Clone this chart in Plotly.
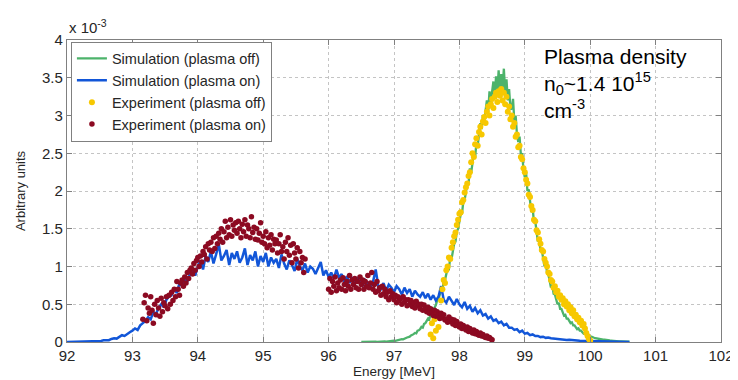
import plotly.graph_objects as go

# ---------------- data (values in units of 1e-3, arbitrary units) ----------------
# Simulation (plasma on): energy grid start/step [MeV]
sim_on_start = 92.0
sim_on_step = 0.04
sim_on_vals = [
    0, 0.001, 0.002, 0.001, 0.003,
    0.004, 0.003, 0.006, 0.005, 0.009,
    0.008, 0.013, 0.016, 0.014, 0.022,
    0.028, 0.024, 0.04, 0.05, 0.045,
    0.07, 0.09, 0.08, 0.11, 0.13,
    0.15, 0.18, 0.16, 0.22, 0.25,
    0.28, 0.33, 0.3, 0.4, 0.37,
    0.45, 0.5, 0.46, 0.56, 0.6,
    0.62, 0.7, 0.65, 0.78, 0.74,
    0.86, 0.8, 0.9, 0.97, 0.88,
    1.0, 1.08, 0.96, 1.14, 1.06,
    1.2, 1.04, 1.16, 1.3, 1.08,
    1.14, 1.22, 1.02, 1.18, 1.1,
    1.2, 1.05, 1.12, 1.24, 1.02,
    1.15, 1.08, 1.2, 1.0, 1.14,
    1.06, 1.18, 1.0, 1.12, 1.05,
    1.1, 0.98, 1.16, 1.04, 0.96,
    1.08, 1.02, 0.94, 1.1, 1.0,
    0.95, 1.04, 0.92, 1.0, 0.97,
    0.9, 0.98, 1.06, 0.88, 0.95,
    0.86, 0.92, 0.84, 0.96, 0.85,
    0.9, 0.8, 0.87, 0.78, 0.86,
    0.76, 0.84, 0.8, 0.74, 0.82,
    0.78, 0.72, 0.8, 0.96, 0.74,
    0.7, 0.78, 0.68, 0.76, 0.72,
    0.66, 0.74, 0.7, 0.63, 0.72,
    0.65, 0.7, 0.6, 0.68, 0.63,
    0.6, 0.66, 0.58, 0.64, 0.56,
    0.62, 0.55, 0.6, 0.74, 0.56,
    0.52, 0.6, 0.54, 0.49, 0.57,
    0.5, 0.46, 0.53, 0.44, 0.48,
    0.4, 0.45, 0.38, 0.42, 0.35,
    0.37, 0.31, 0.34, 0.28, 0.3,
    0.25, 0.27, 0.22, 0.24, 0.19,
    0.19, 0.16, 0.17, 0.13, 0.15,
    0.11, 0.12, 0.09, 0.1, 0.08,
    0.08, 0.065, 0.07, 0.055, 0.06,
    0.05, 0.045, 0.04, 0.042, 0.035,
    0.032, 0.028, 0.03, 0.024, 0.022,
    0.02, 0.017, 0.016, 0.013, 0.012,
    0.01, 0.009, 0.007, 0.007, 0.005,
    0.005, 0.004, 0.003, 0.003, 0.002,
    0.002, 0.001, 0.001, 0.001, 0.0,
    0.0,
]

# Simulation (plasma off)
sim_off_start = 96.5
sim_off_step = 0.02
sim_off_vals = [
    0.0, 0.001, 0.0, 0.001, 0.001,
    0.001, 0.002, 0.001, 0.002, 0.002,
    0.002, 0.003, 0.002, 0.004, 0.003,
    0.005, 0.004, 0.006, 0.007, 0.006,
    0.009, 0.011, 0.010, 0.014, 0.013,
    0.018, 0.016, 0.022, 0.024, 0.027,
    0.033, 0.038, 0.035, 0.046, 0.049,
    0.06, 0.066, 0.07, 0.086, 0.09,
    0.104, 0.12, 0.115, 0.15, 0.155,
    0.173, 0.2, 0.19, 0.24, 0.25,
    0.276, 0.31, 0.3, 0.37, 0.39,
    0.425, 0.46, 0.49, 0.55, 0.57,
    0.627, 0.7, 0.69, 0.8, 0.82,
    0.89, 0.98, 0.97, 1.12, 1.1,
    1.2, 1.3, 1.33, 1.46, 1.5,
    1.58, 1.69, 1.7, 1.86, 1.88,
    1.98, 2.1, 2.1, 2.3, 2.24,
    2.39, 2.5, 2.44, 2.64, 2.6,
    2.77, 2.9, 2.82, 3.0, 2.93,
    3.09, 3.2, 3.05, 3.32, 3.18,
    3.3, 3.45, 3.22, 3.52, 3.3,
    3.6, 3.28, 3.55, 3.35, 3.62,
    3.3, 3.48, 3.2, 3.35, 3.1,
    3.08, 3.22, 2.92, 3.0, 2.75,
    2.65, 2.72, 2.48, 2.5, 2.28,
    2.18, 2.24, 2.0, 2.02, 1.82,
    1.72, 1.78, 1.58, 1.6, 1.43,
    1.33, 1.38, 1.2, 1.22, 1.09,
    1.01, 1.06, 0.92, 0.9, 0.8,
    0.72, 0.76, 0.64, 0.63, 0.55,
    0.5, 0.52, 0.44, 0.44, 0.38,
    0.35, 0.36, 0.31, 0.31, 0.27,
    0.25, 0.26, 0.22, 0.22, 0.19,
    0.17, 0.18, 0.15, 0.15, 0.13,
    0.11, 0.115, 0.095, 0.09, 0.08,
    0.07, 0.072, 0.06, 0.056, 0.05,
    0.045, 0.046, 0.038, 0.036, 0.032,
    0.03, 0.03, 0.025, 0.024, 0.021,
    0.02, 0.019, 0.016, 0.015, 0.013,
    0.012, 0.012, 0.009, 0.009, 0.008,
    0.007, 0.007, 0.005, 0.005, 0.004,
    0.003,
]

# Experiment (plasma off)
exp_off_start = 97.56
exp_off_step = 0.02
exp_off_vals = [
    0.1, 0.25, 0.05, 0.3, 0.15, 0.38, 0.2, 0.35, 0.55, 0.7,
    0.82, 0.78, 0.95, 1.0, 1.12, 1.1, 1.25, 1.32, 1.4, 1.45,
    1.55, 1.62, 1.7, 1.72, 1.85, 1.88, 1.98, 2.05, 2.1, 2.2,
    2.25, 2.38, 2.5, 2.45, 2.62, 2.7, 2.6, 2.78, 2.85, 2.75,
    2.92, 2.98, 2.9, 3.05, 3.12, 3.0, 3.15, 3.22, 3.1, 3.25,
    3.3, 3.18, 3.32, 3.26, 3.35, 3.2, 3.3, 3.15, 3.25, 3.05,
    3.12, 2.95, 3.0, 2.85, 2.9, 2.72, 2.75, 2.58, 2.6, 2.45,
    2.42, 2.3, 2.25, 2.15, 2.1, 1.95, 1.92, 1.8, 1.75, 1.62,
    1.6, 1.48, 1.45, 1.36, 1.3, 1.22, 1.2, 1.1, 1.05, 1.0,
    0.92, 0.9, 0.82, 0.8, 0.72, 0.74, 0.66, 0.68, 0.6, 0.62,
    0.56, 0.58, 0.5, 0.54, 0.47, 0.5, 0.42, 0.46, 0.38, 0.42,
    0.34, 0.36, 0.3, 0.32, 0.26, 0.28, 0.22, 0.24, 0.18, 0.12,
    0.08, 0.04, 0.02,
]

# Experiment (plasma on) - two measured segments
exp_on_a_start = 93.16
exp_on_a_step = 0.02
exp_on_a_vals = [
    0.3, 0.52,
    0.62, 0.28, 0.45, 0.38, 0.6,
    0.42, 0.25, 0.5, 0.36, 0.55,
    0.45, 0.34, 0.58, 0.4, 0.52,
    0.48, 0.6, 0.44, 0.62, 0.5,
    0.66, 0.55, 0.7, 0.6, 0.8,
    0.7, 0.62, 0.78, 0.82, 0.74,
    0.86, 0.78, 0.92, 0.84, 0.95,
    0.98, 0.9, 1.04, 0.95, 1.08,
    1.12, 1.0, 1.14, 1.06, 1.2,
    1.16, 1.26, 1.1, 1.3, 1.22,
    1.32, 1.2, 1.38, 1.24, 1.4,
    1.3, 1.44, 1.36, 1.5, 1.32,
    1.46, 1.6, 1.38, 1.52, 1.42,
    1.62, 1.4, 1.55, 1.48, 1.58,
    1.44, 1.6, 1.5, 1.38, 1.56,
    1.46, 1.62, 1.4, 1.55, 1.5,
    1.38, 1.66, 1.45, 1.52, 1.36,
    1.5, 1.35, 1.44, 1.58, 1.32,
    1.4, 1.3, 1.46, 1.25, 1.38,
    1.28, 1.42, 1.22, 1.36, 1.3,
    1.35, 1.18, 1.3, 1.42, 1.2,
    1.26, 1.1, 1.32, 1.2, 1.38,
    1.15, 1.28, 1.05, 1.3, 1.18,
    1.1, 1.25, 0.98, 1.2, 1.05,
    1.12, 0.92, 1.1,
]
exp_on_b_start = 96.0
exp_on_b_step = 0.02
exp_on_b_vals = [
    0.7, 0.84, 0.66, 0.8, 0.74,
    0.86, 0.68, 0.78, 0.72, 0.82,
    0.7, 0.85, 0.76, 0.68, 0.8,
    0.74, 0.88, 0.7, 0.82, 0.76,
    0.84, 0.72, 0.8, 0.7, 0.86,
    0.76, 0.82, 0.7, 0.8, 0.74,
    0.88, 0.72, 0.78, 0.92, 0.7,
    0.76, 0.66, 0.8, 0.68, 0.72,
    0.62, 0.74, 0.64, 0.7, 0.6,
    0.66, 0.56, 0.68, 0.6, 0.64,
    0.56, 0.62, 0.52, 0.6, 0.55,
    0.58, 0.5, 0.6, 0.53, 0.56,
    0.48, 0.56, 0.5, 0.55, 0.47,
    0.52, 0.45, 0.54, 0.48, 0.5,
    0.44, 0.5, 0.42, 0.49, 0.44,
    0.4, 0.46, 0.38, 0.44, 0.39,
    0.35, 0.42, 0.34, 0.4, 0.36,
    0.31, 0.38, 0.32, 0.36, 0.29,
    0.3, 0.26, 0.33, 0.27, 0.3,
    0.24, 0.29, 0.22, 0.27, 0.23,
    0.2, 0.24, 0.18, 0.22, 0.19,
    0.16, 0.2, 0.14, 0.18, 0.15,
    0.12, 0.16, 0.11, 0.14, 0.1,
    0.09, 0.12, 0.08, 0.1, 0.07,
    0.06, 0.08, 0.05, 0.06, 0.04,
    0.03,
]

x_ticks = [92, 93, 94, 95, 96, 97, 98, 99, 100, 101, 102]
y_ticks = [0, 0.5, 1, 1.5, 2, 2.5, 3, 3.5, 4]

series_names = [
    "Simulation (plasma off)",
    "Simulation (plasma on)",
    "Experiment (plasma off)",
    "Experiment (plasma on)",
]


def grid(start, step, vals):
    return [round(start + step * i, 4) for i in range(len(vals))]


sim_off_x = grid(sim_off_start, sim_off_step, sim_off_vals)
sim_on_x = grid(sim_on_start, sim_on_step, sim_on_vals)
exp_off_x = grid(exp_off_start, exp_off_step, exp_off_vals)
exp_on_x = grid(exp_on_a_start, exp_on_a_step, exp_on_a_vals) + grid(exp_on_b_start, exp_on_b_step, exp_on_b_vals)
exp_on_vals = exp_on_a_vals + exp_on_b_vals

GREEN = "#4db36b"
BLUE = "#1256d8"
YELLOW = "#f7c800"
RED = "#8c0a22"
FONT = "Liberation Sans, Arial, sans-serif"

fig = go.Figure()
fig.add_trace(go.Scatter(x=sim_off_x, y=sim_off_vals, mode="lines", name=series_names[0],
                         line=dict(color=GREEN, width=2.3)))
fig.add_trace(go.Scatter(x=sim_on_x, y=sim_on_vals, mode="lines", name=series_names[1],
                         line=dict(color=BLUE, width=2.5)))
fig.add_trace(go.Scatter(x=exp_off_x, y=exp_off_vals, mode="markers", name=series_names[2],
                         marker=dict(color=YELLOW, size=6, line=dict(width=0))))
fig.add_trace(go.Scatter(x=exp_on_x, y=exp_on_vals, mode="markers", name=series_names[3],
                         marker=dict(color=RED, size=5.5, line=dict(width=0))))

axis_common = dict(
    showline=True, linecolor="#808080", linewidth=1.2, mirror="ticks",
    ticks="inside", ticklen=5, tickcolor="#808080", tickwidth=1,
    showgrid=True, gridcolor="#c4c4c4", griddash="dot", gridwidth=1,
    zeroline=False,
    tickfont=dict(family=FONT, size=15, color="#262626"),
)

fig.update_xaxes(range=[92, 102], tickvals=x_ticks, **axis_common,
                 title=dict(text="Energy [MeV]", font=dict(family=FONT, size=13.5, color="#262626"), standoff=2))
fig.update_yaxes(range=[0, 4], tickvals=y_ticks, **axis_common,
                 title=dict(text="Arbitrary units", font=dict(family=FONT, size=13, color="#262626"), standoff=13))

fig.add_annotation(x=0, y=1, xref="paper", yref="paper", xanchor="left", yanchor="bottom",
                   text="x 10<sup>-3</sup>", showarrow=False, yshift=2,
                   font=dict(family=FONT, size=15, color="#262626"))

note_lines = ["Plasma density", "n<sub>0</sub>~1.4 10<sup>15</sup>", "cm<sup>-3</sup>"]
note_y = [0.946, 0.855, 0.770]
for txt, yy in zip(note_lines, note_y):
    fig.add_annotation(x=0.726, y=yy, xref="paper", yref="paper", xanchor="left", yanchor="middle",
                       text=txt, showarrow=False, font=dict(family=FONT, size=21, color="#000000"))

fig.update_layout(
    width=738, height=380,
    margin=dict(l=56, r=15, t=32, b=40),
    paper_bgcolor="white", plot_bgcolor="white",
    font=dict(family=FONT, color="#262626"),
    legend=dict(x=0.006, y=0.995, xanchor="left", yanchor="top",
                bgcolor="white", bordercolor="#808080", borderwidth=1,
                font=dict(family=FONT, size=14.5, color="#262626"),
                tracegroupgap=0, itemwidth=30),
    showlegend=True,
)

fig.write_html("out.html")
